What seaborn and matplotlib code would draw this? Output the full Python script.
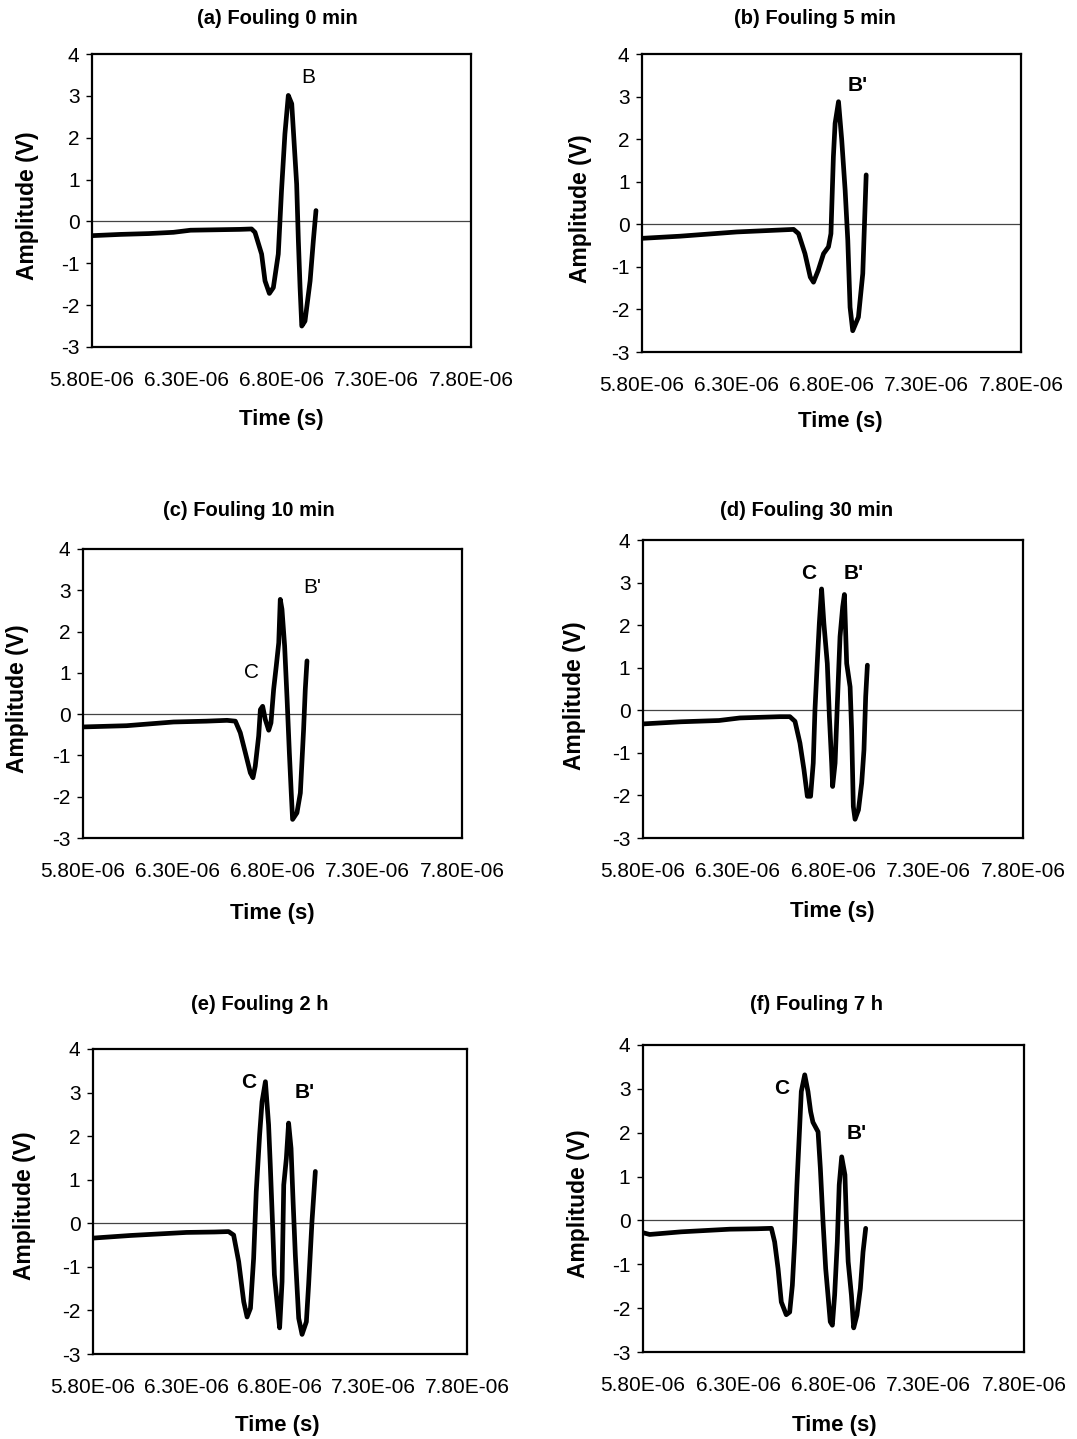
import numpy as np
import pandas as pd
import matplotlib
matplotlib.use("Agg")
import matplotlib.pyplot as plt
import seaborn as sns

# ---------------- data (time in microseconds, amplitude in V) ----------------
titles = ["(a) Fouling 0 min", "(b) Fouling 5 min", "(c) Fouling 10 min",
          "(d) Fouling 30 min", "(e) Fouling 2 h", "(f) Fouling 7 h"]

t_a = [5.80, 5.95, 6.10, 6.23, 6.32, 6.45, 6.58, 6.642, 6.66, 6.695, 6.713, 6.736, 6.757, 6.783,
       6.80, 6.818, 6.836, 6.854, 6.88, 6.889, 6.898, 6.907, 6.924, 6.951, 6.968, 6.982]
v_a = [-0.34, -0.31, -0.29, -0.26, -0.21, -0.20, -0.19, -0.18, -0.26, -0.78, -1.42, -1.72, -1.58, -0.78,
       0.73, 2.09, 3.01, 2.81, 0.89, -0.46, -1.58, -2.50, -2.38, -1.42, -0.46, 0.26]

t_b = [5.80, 6.00, 6.30, 6.50, 6.60, 6.626, 6.66, 6.688, 6.705, 6.73, 6.758, 6.784, 6.797, 6.81,
       6.819, 6.837, 6.854, 6.872, 6.886, 6.898, 6.912, 6.942, 6.965, 6.974, 6.983]
v_b = [-0.33, -0.28, -0.18, -0.14, -0.12, -0.22, -0.69, -1.24, -1.36, -1.08, -0.69, -0.53, -0.22, 1.59,
       2.37, 2.88, 1.98, 0.80, -0.38, -1.95, -2.50, -2.18, -1.16, 0.0, 1.16]

t_c = [5.80, 6.03, 6.278, 6.45, 6.56, 6.604, 6.63, 6.657, 6.683, 6.697, 6.709, 6.727, 6.736, 6.748,
       6.762, 6.78, 6.792, 6.806, 6.82, 6.833, 6.841, 6.85, 6.864, 6.877, 6.889, 6.899, 6.906, 6.929,
       6.947, 6.964, 6.973, 6.982]
v_c = [-0.31, -0.28, -0.19, -0.17, -0.15, -0.17, -0.45, -0.94, -1.42, -1.54, -1.26, -0.53, 0.11, 0.19,
       -0.13, -0.39, -0.21, 0.60, 1.17, 1.73, 2.78, 2.54, 1.65, 0.36, -0.94, -1.91, -2.55, -2.39,
       -1.91, -0.38, 0.60, 1.29]

t_d = [5.80, 6.00, 6.20, 6.31, 6.52, 6.573, 6.60, 6.626, 6.647, 6.665, 6.682, 6.696, 6.705, 6.717,
       6.728, 6.74, 6.752, 6.77, 6.781, 6.793, 6.798, 6.811, 6.823, 6.837, 6.851, 6.86, 6.872, 6.89,
       6.898, 6.907, 6.916, 6.934, 6.951, 6.963, 6.972, 6.981]
v_d = [-0.32, -0.27, -0.24, -0.18, -0.15, -0.15, -0.26, -0.77, -1.39, -2.02, -2.02, -1.24, 0.0, 1.10,
       2.04, 2.85, 2.04, 1.10, -0.15, -1.24, -1.79, -1.24, 0.17, 1.73, 2.43, 2.72, 1.10, 0.55,
       -0.46, -2.26, -2.56, -2.34, -1.71, -0.93, 0.32, 1.06]

t_e = [5.80, 6.00, 6.30, 6.45, 6.525, 6.552, 6.579, 6.606, 6.624, 6.642, 6.659, 6.673, 6.691, 6.704,
       6.722, 6.739, 6.748, 6.761, 6.77, 6.784, 6.798, 6.811, 6.82, 6.834, 6.846, 6.859, 6.87, 6.882,
       6.90, 6.918, 6.941, 6.953, 6.971, 6.989]
v_e = [-0.34, -0.28, -0.21, -0.20, -0.19, -0.27, -0.88, -1.80, -2.15, -1.95, -0.80, 0.73, 2.03, 2.79,
       3.25, 2.26, 1.34, -0.11, -1.18, -1.80, -2.40, -1.34, 0.88, 1.49, 2.30, 1.72, 0.50, -0.73,
       -2.18, -2.55, -2.26, -1.41, 0.04, 1.19]

t_f = [5.80, 5.835, 6.00, 6.255, 6.40, 6.474, 6.491, 6.509, 6.526, 6.552, 6.57, 6.584, 6.596, 6.608,
       6.622, 6.631, 6.649, 6.666, 6.68, 6.692, 6.719, 6.731, 6.745, 6.759, 6.771, 6.783, 6.794, 6.806,
       6.82, 6.83, 6.843, 6.86, 6.868, 6.877, 6.894, 6.906, 6.923, 6.941, 6.955, 6.969]
v_f = [-0.28, -0.32, -0.26, -0.20, -0.19, -0.18, -0.49, -1.10, -1.86, -2.15, -2.09, -1.48, -0.49, 0.81,
       2.10, 2.94, 3.32, 2.94, 2.48, 2.24, 2.02, 1.19, -0.03, -1.10, -1.70, -2.31, -2.39, -1.70,
       -0.49, 0.81, 1.45, 1.04, -0.03, -0.94, -1.70, -2.45, -2.16, -1.55, -0.72, -0.18]

times = [t_a, t_b, t_c, t_d, t_e, t_f]
amps = [v_a, v_b, v_c, v_d, v_e, v_f]

# peak labels: (text, time in us, amplitude, bold)
labels_a = [("B", 6.94, 3.45, False)]
labels_b = [("B'", 6.94, 3.27, True)]
labels_c = [("C", 6.69, 1.00, False), ("B'", 7.01, 3.06, False)]
labels_d = [("C", 6.67, 3.22, True), ("B'", 6.91, 3.22, True)]
labels_e = [("C", 6.63, 3.22, True), ("B'", 6.93, 3.01, True)]
labels_f = [("C", 6.53, 3.00, True), ("B'", 6.92, 1.99, True)]
peak_labels = [labels_a, labels_b, labels_c, labels_d, labels_e, labels_f]

x_ticks = [5.8e-6, 6.3e-6, 6.8e-6, 7.3e-6, 7.8e-6]
y_ticks = [-3, -2, -1, 0, 1, 2, 3, 4]

# ---------------- layout (pixels: left, top, right, bottom) ----------------
W, H = 1077, 1439
boxes = [(92, 54, 471, 347), (642, 54, 1021, 352),
         (83, 549, 462, 838), (643, 540, 1023, 838),
         (93, 1049, 467, 1354), (643, 1045, 1024, 1352)]
title_pos = [(277, 18), (815, 18), (249, 511), (807, 511), (260, 1005), (816, 1005)]
xlabel_pos = [(281, 420), (840, 421), (272, 913), (832, 912), (277, 1426), (834, 1425)]
ylabel_pos = [(28, 206), (580, 209), (18, 699), (574, 696), (25, 1206), (578, 1204)]

sns.set_theme(style="white")
plt.rcParams['font.family'] = ['Liberation Sans', 'DejaVu Sans']
plt.rcParams['text.color'] = 'black'
plt.rcParams['xtick.color'] = 'black'
plt.rcParams['ytick.color'] = 'black'
plt.rcParams['axes.labelcolor'] = 'black'

fig = plt.figure(figsize=(W / 100, H / 100), dpi=100)
fig.patch.set_facecolor("white")

for i in range(6):
    L, T, R, B = boxes[i]
    ax = fig.add_axes([L / W, 1 - B / H, (R - L) / W, (B - T) / H])
    df = pd.DataFrame({"Time": np.array(times[i]) * 1e-6, "Amp": amps[i]})
    ax.axhline(0, color="#444444", lw=0.9, zorder=1)
    sns.lineplot(data=df, x="Time", y="Amp", ax=ax, color="black", lw=3.4,
                 sort=False, estimator=None, zorder=3)
    ax.set_xlim(5.8e-6, 7.8e-6)
    ax.set_ylim(-3, 4)
    ax.set_xticks(x_ticks)
    ax.set_xticklabels([f"{v:.2E}" for v in x_ticks])
    ax.set_yticks(y_ticks)
    ax.set_yticklabels([str(v) for v in y_ticks])
    ax.tick_params(axis="x", length=0, pad=17, labelsize=15, colors="black")
    ax.tick_params(axis="y", length=4, width=1, direction="out", left=True, pad=5,
                   labelsize=15, colors="black")
    ax.set_xlabel("")
    ax.set_ylabel("")
    for sp in ax.spines.values():
        sp.set_visible(True)
        sp.set_color("black")
        sp.set_linewidth(1.6)
    ax.grid(False)
    for txt, tx, ty, bold in peak_labels[i]:
        ax.text(tx * 1e-6, ty, txt, ha="center", va="center", fontsize=15,
                fontweight="bold" if bold else "normal", color="black")
    tx, ty = title_pos[i]
    fig.text(tx / W, 1 - ty / H, titles[i], ha="center", va="center",
             fontsize=14.5, fontweight="bold", color="black")
    tx, ty = xlabel_pos[i]
    fig.text(tx / W, 1 - ty / H, "Time (s)", ha="center", va="center",
             fontsize=16, fontweight="bold", color="black")
    tx, ty = ylabel_pos[i]
    fig.text(tx / W, 1 - ty / H, "Amplitude (V)", ha="center", va="center",
             rotation=90, fontsize=16.5, fontweight="bold", color="black")

fig.savefig("out.png", dpi=100, facecolor="white")
